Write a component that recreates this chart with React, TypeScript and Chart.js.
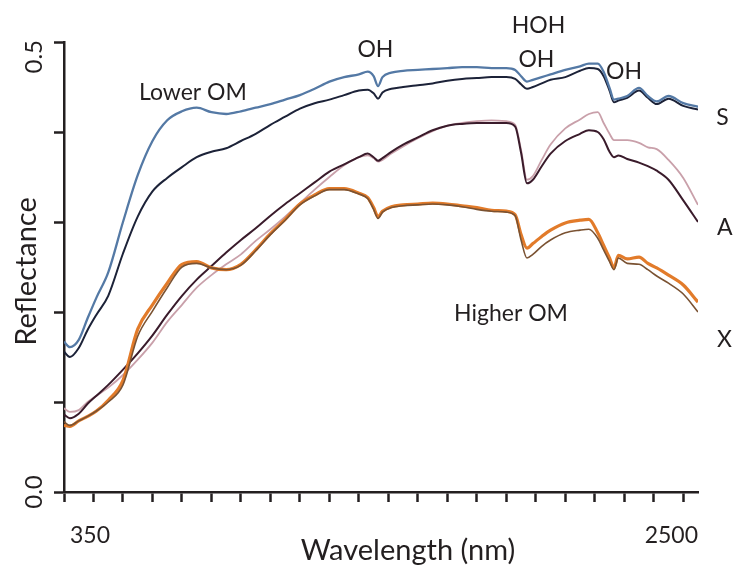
import { useEffect, useRef } from "react";
import { Chart, registerables } from "chart.js";

Chart.register(...registerables);

// Wavelength grid (nm), denser around the 1400, 1900 and 2200 nm absorption bands
const wavelengths = [
  350, 370, 400, 430, 460, 500, 550, 600, 650, 700, 750, 800, 850, 900, 950,
  1000, 1050, 1100, 1150, 1200, 1250, 1300, 1350, 1380, 1400, 1415, 1430, 1460,
  1500, 1550, 1600, 1650, 1700, 1750, 1800, 1850, 1880, 1900, 1920, 1940, 1970,
  2000, 2050, 2100, 2130, 2160, 2180, 2200, 2215, 2230, 2260, 2300, 2330, 2360,
  2400, 2450, 2500,
];

// Soil S (lower organic matter) – two scans
const soilS1 = [
  0.167, 0.161, 0.169, 0.193, 0.216, 0.244, 0.3, 0.352, 0.39, 0.413, 0.423, 0.427,
  0.422, 0.42, 0.423, 0.427, 0.431, 0.436, 0.441, 0.448, 0.456, 0.461, 0.464,
  0.467, 0.462, 0.451, 0.461, 0.466, 0.468, 0.469, 0.47, 0.471, 0.472, 0.472,
  0.471, 0.471, 0.469, 0.462, 0.456, 0.458, 0.461, 0.464, 0.469, 0.473, 0.476,
  0.476, 0.467, 0.449, 0.436, 0.437, 0.44, 0.449, 0.44, 0.434, 0.44, 0.432, 0.428,
];
const soilS2 = [
  0.156, 0.15, 0.16, 0.18, 0.197, 0.218, 0.265, 0.306, 0.334, 0.349, 0.361, 0.372,
  0.378, 0.382, 0.39, 0.398, 0.408, 0.417, 0.426, 0.432, 0.436, 0.441, 0.446,
  0.447, 0.443, 0.437, 0.444, 0.448, 0.45, 0.452, 0.454, 0.457, 0.459, 0.46,
  0.461, 0.461, 0.459, 0.453, 0.448, 0.45, 0.454, 0.458, 0.461, 0.468, 0.471,
  0.47, 0.462, 0.446, 0.433, 0.435, 0.438, 0.446, 0.438, 0.431, 0.437, 0.429, 0.425,
];

// Soil A – two scans
const soilA1 = [
  0.093, 0.089, 0.091, 0.1, 0.107, 0.116, 0.13, 0.147, 0.166, 0.189, 0.208, 0.227,
  0.241, 0.253, 0.264, 0.279, 0.292, 0.306, 0.321, 0.336, 0.35, 0.363, 0.372,
  0.374, 0.371, 0.367, 0.369, 0.376, 0.384, 0.393, 0.401, 0.407, 0.41, 0.412,
  0.413, 0.412, 0.408, 0.38, 0.347, 0.351, 0.369, 0.386, 0.404, 0.414, 0.42,
  0.422, 0.41, 0.398, 0.391, 0.391, 0.391, 0.388, 0.383, 0.381, 0.369, 0.349, 0.319,
];
const soilA2 = [
  0.086, 0.082, 0.087, 0.098, 0.107, 0.119, 0.136, 0.154, 0.174, 0.197, 0.218,
  0.236, 0.251, 0.266, 0.28, 0.293, 0.307, 0.32, 0.332, 0.344, 0.356, 0.364,
  0.372, 0.376, 0.372, 0.368, 0.371, 0.378, 0.386, 0.394, 0.402, 0.407, 0.409,
  0.41, 0.41, 0.41, 0.406, 0.377, 0.343, 0.347, 0.362, 0.376, 0.39, 0.398, 0.402,
  0.4, 0.392, 0.378, 0.372, 0.374, 0.37, 0.366, 0.362, 0.357, 0.347, 0.324, 0.3,
];

// Soil X (higher organic matter) – two scans
const soilX1 = [
  0.074, 0.073, 0.079, 0.084, 0.09, 0.102, 0.124, 0.181, 0.208, 0.232, 0.253,
  0.256, 0.249, 0.247, 0.253, 0.269, 0.287, 0.303, 0.32, 0.33, 0.337, 0.337,
  0.332, 0.327, 0.316, 0.306, 0.312, 0.317, 0.319, 0.32, 0.321, 0.32, 0.318,
  0.316, 0.313, 0.312, 0.308, 0.286, 0.271, 0.276, 0.284, 0.291, 0.299, 0.302,
  0.303, 0.288, 0.274, 0.26, 0.249, 0.263, 0.259, 0.261, 0.254, 0.249, 0.241, 0.23, 0.211,
];
const soilX2 = [
  0.078, 0.074, 0.079, 0.084, 0.09, 0.1, 0.119, 0.173, 0.201, 0.227, 0.25, 0.254,
  0.249, 0.247, 0.252, 0.268, 0.286, 0.302, 0.319, 0.329, 0.336, 0.336, 0.331,
  0.326, 0.314, 0.304, 0.311, 0.316, 0.318, 0.319, 0.32, 0.319, 0.317, 0.314,
  0.312, 0.311, 0.307, 0.28, 0.26, 0.264, 0.273, 0.28, 0.288, 0.291, 0.292,
  0.282, 0.269, 0.256, 0.247, 0.26, 0.254, 0.253, 0.247, 0.24, 0.232, 0.22, 0.2,
];

const xTickValues = [
  350, 450, 550, 650, 750, 850, 950, 1050, 1150, 1250, 1350, 1450, 1550, 1650,
  1750, 1850, 1950, 2050, 2150, 2250, 2350, 2450,
];
const yTickValues = [0, 0.1, 0.2, 0.3, 0.4, 0.5];

// In-plot annotations: text, wavelength and reflectance of the text baseline centre
const noteTexts = ["Lower OM", "OH", "HOH", "OH", "OH", "Higher OM"];
const noteWavelengths = [787, 1406, 1959, 1952, 2249, 1866];
const noteReflectances = [0.436, 0.483, 0.51, 0.472, 0.459, 0.19];

// Soil names at the right end of the spectra
const soilNames = ["S", "A", "X"];
const soilNameWavelengths = [2583, 2591, 2590];
const soilNameReflectances = [0.408, 0.2856, 0.161];

const INK = "#231f20";
const FONT = "Lato, 'Open Sans', sans-serif";

const textPlugin = {
  id: "spectraText",
  afterDraw(chart: any) {
    const { ctx, chartArea } = chart;
    const x = chart.scales.x;
    const y = chart.scales.y;
    ctx.save();
    ctx.fillStyle = INK;

    ctx.font = `23px ${FONT}`;
    ctx.textAlign = "center";
    ctx.textBaseline = "alphabetic";
    noteTexts.forEach((t, i) => {
      ctx.fillText(t, x.getPixelForValue(noteWavelengths[i]), y.getPixelForValue(noteReflectances[i]));
    });

    ctx.font = `23px ${FONT}`;
    soilNames.forEach((t, i) => {
      ctx.fillText(t, x.getPixelForValue(soilNameWavelengths[i]), y.getPixelForValue(soilNameReflectances[i]));
    });

    // x-axis end labels
    ctx.font = `23px ${FONT}`;
    ctx.textAlign = "left";
    ctx.fillText("350", chartArea.left + 6, chartArea.bottom + 51);
    ctx.textAlign = "right";
    ctx.fillText("2500", chartArea.right, chartArea.bottom + 51);

    ctx.font = `29px ${FONT}`;
    ctx.textAlign = "center";
    ctx.fillText("Wavelength (nm)", (chartArea.left + chartArea.right) / 2 + 27, chartArea.bottom + 68);

    // y-axis labels, rotated
    const rot = (text: string, px: number, py: number, align: CanvasTextAlign, size: number) => {
      ctx.save();
      ctx.translate(px, py);
      ctx.rotate(-Math.PI / 2);
      ctx.font = `${size}px ${FONT}`;
      ctx.textAlign = align;
      ctx.textBaseline = "alphabetic";
      ctx.fillText(text, 0, 0);
      ctx.restore();
    };
    rot("0.5", chartArea.left - 22, y.getPixelForValue(0.5) - 2, "right", 24);
    rot("0.0", chartArea.left - 22, y.getPixelForValue(0), "center", 24);
    rot("Reflectance", chartArea.left - 28, y.getPixelForValue(0.245), "center", 29);

    ctx.restore();
  },
};

// First entry is drawn on top
const series = [
  { label: "S scan 1", data: soilS1, color: "#5479a5", width: 2.3 },
  { label: "X scan 2", data: soilX2, color: "#7a5232", width: 1.6 },
  { label: "X scan 1", data: soilX1, color: "#e27b2a", width: 3.2 },
  { label: "A scan 2", data: soilA2, color: "#3a1b2b", width: 2 },
  { label: "A scan 1", data: soilA1, color: "#c9a0aa", width: 1.8 },
  { label: "S scan 2", data: soilS2, color: "#1c2238", width: 2 },
];

export default function App() {
  const canvasRef = useRef<HTMLCanvasElement>(null);

  useEffect(() => {
    const canvas = canvasRef.current;
    if (!canvas) return;
    const axisCommon = {
      border: { display: true, color: INK, width: 2.5 },
      grid: {
        drawOnChartArea: false,
        drawTicks: true,
        tickLength: 10,
        tickWidth: 2.5,
        tickColor: INK,
      },
      ticks: { display: false },
    };
    const chart = new Chart(canvas, {
      type: "line",
      data: {
        datasets: series.map((s) => ({
          label: s.label,
          data: wavelengths.map((w, i) => ({ x: w, y: s.data[i] })),
          borderColor: s.color,
          borderWidth: s.width,
          pointRadius: 0,
          fill: false,
          cubicInterpolationMode: "monotone" as const,
        })),
      },
      options: {
        responsive: true,
        maintainAspectRatio: false,
        animation: false,
        layout: { padding: { left: 54, right: 35, top: 42, bottom: 63 } },
        plugins: { legend: { display: false }, tooltip: { enabled: false } },
        scales: {
          x: {
            type: "linear",
            min: 350,
            max: 2500,
            ...axisCommon,
            afterBuildTicks: (scale: any) => {
              scale.ticks = xTickValues.map((v) => ({ value: v }));
            },
          },
          y: {
            type: "linear",
            min: 0,
            max: 0.5,
            ...axisCommon,
            afterBuildTicks: (scale: any) => {
              scale.ticks = yTickValues.map((v) => ({ value: v }));
            },
          },
        },
      },
      plugins: [textPlugin],
    });
    return () => chart.destroy();
  }, []);

  return (
    <div style={{ position: "fixed", left: 0, top: 0, width: 733, height: 565, background: "#fff" }}>
      <canvas ref={canvasRef} />
    </div>
  );
}
